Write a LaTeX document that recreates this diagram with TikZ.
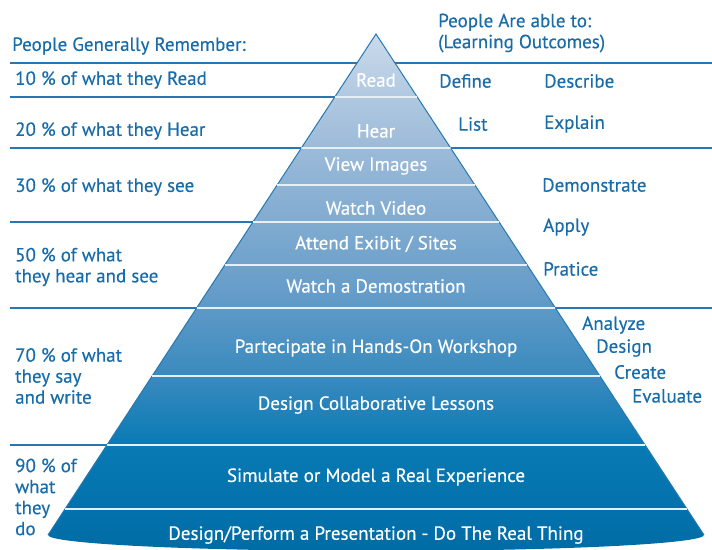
\documentclass[tikz,border=0pt]{standalone}
\usepackage{fontspec}
\setmainfont{PT Sans}[FakeBold=0.35]
\usetikzlibrary{calc}

\definecolor{txtblue}{RGB}{24,108,170}
\definecolor{ruleblue}{RGB}{38,120,180}
\definecolor{pyrT}{RGB}{202,218,235}
\definecolor{pyrA}{RGB}{155,186,216}
\definecolor{pyrB}{RGB}{102,157,201}
\definecolor{pyrC}{RGB}{55,137,190}
\definecolor{pyrD}{RGB}{8,122,180}
\definecolor{pyrE}{RGB}{0,108,166}

% light at the tip, dark at the base
\pgfdeclareverticalshading{pyramid}{100bp}{color(0bp)=(pyrE); color(25bp)=(pyrE);
  color(35.3bp)=(pyrD); color(41.5bp)=(pyrC); color(50.2bp)=(pyrB);
  color(63.8bp)=(pyrA); color(75bp)=(pyrT); color(100bp)=(pyrT)}

\begin{document}
\begin{tikzpicture}[
        x=1pt,y=-1pt,
        every node/.append style={inner sep=0pt}
    ]
    \tikzstyle{txt}=[text=txtblue,font=\fontsize{19}{21}\selectfont,anchor=west,align=left];
    \tikzstyle{lvl}=[text=white,font=\fontsize{19}{21}\selectfont];
    \tikzstyle{rule}=[ruleblue,line width=1.6pt];
    \tikzstyle{band}=[white!88!ruleblue,line width=1.4pt];
    \useasboundingbox (0,0) rectangle (712,549);
    % pyramid
    \coordinate (apex) at (376,34);
    \coordinate (bl) at (48,535);
    \coordinate (br) at (704,535);
    \shade[shading=pyramid] (apex) -- (bl) arc[start angle=180,end angle=0,x radius=328,y radius=16] -- cycle;
    \draw[ruleblue,line width=1pt] (bl) -- (apex) -- (br);
    \foreach \y in {97,148,185,222,265,308,376,445,509}
        \draw[band] ($(apex)!{(\y-34)/501}!(bl)$) -- ($(apex)!{(\y-34)/501}!(br)$);
    % rules out to the margins
    \foreach \y in {63,97,148,222,308,445}
        \draw[rule] (10,\y) -- ($(apex)!{(\y-34)/501}!(bl)$);
    \foreach \y in {63,148,308}
        \draw[rule] ($(apex)!{(\y-34)/501}!(br)$) -- (712,\y);
    % levels
    \node[lvl] (read) at (376,80) {Read};
    \node[lvl] (hear) at (376,131) {Hear};
    \node[lvl] (view) at (376,166) {View Images};
    \node[lvl] (video) at (376,208) {Watch Video};
    \node[lvl] (exibit) at (376,244) {Attend Exibit / Sites};
    \node[lvl] (demo) at (376,286) {Watch a Demostration};
    \node[lvl] (workshop) at (376,348) {Partecipate in Hands-On Workshop};
    \node[lvl] (lessons) at (376,405) {Design Collaborative Lessons};
    \node[lvl] (simulate) at (376,477) {Simulate or Model a Real Experience};
    \node[lvl] (perform) at (376,535) {Design/Perform a Presentation - Do The Real Thing};
    % left column
    \node[txt] (remember) at (12,46) {People Generally Remember:};
    \node[txt] (p10) at (15,80) {10 \% of what they Read};
    \node[txt] (p20) at (15,131) {20 \% of what they Hear};
    \node[txt] (p30) at (15,187) {30 \% of what they see};
    \node[txt] (p50) at (15,267) {50 \% of what\\they hear and see};
    \node[txt] (p70) at (15,376) {70 \% of what\\they say\\and write};
    \node[txt] (p90) at (15,497) {90 \% of\\what\\they\\do};
    % right column
    \node[txt] (able) at (438,33) {People Are able to:\\(Learning Outcomes)};
    \node[txt] (define) at (439,81) {Define};
    \node[txt] (describe) at (544,81) {Describe};
    \node[txt] (list) at (458,124) {List};
    \node[txt] (explain) at (544,124) {Explain};
    \node[txt] (demonstrate) at (542,185) {Demonstrate};
    \node[txt] (apply) at (543,227) {Apply};
    \node[txt] (pratice) at (543,269) {Pratice};
    \node[txt] (analyze) at (582,325) {Analyze};
    \node[txt] (design) at (596,348) {Design};
    \node[txt] (create) at (614,372) {Create};
    \node[txt] (evaluate) at (632,396) {Evaluate};
\end{tikzpicture}
\end{document}
